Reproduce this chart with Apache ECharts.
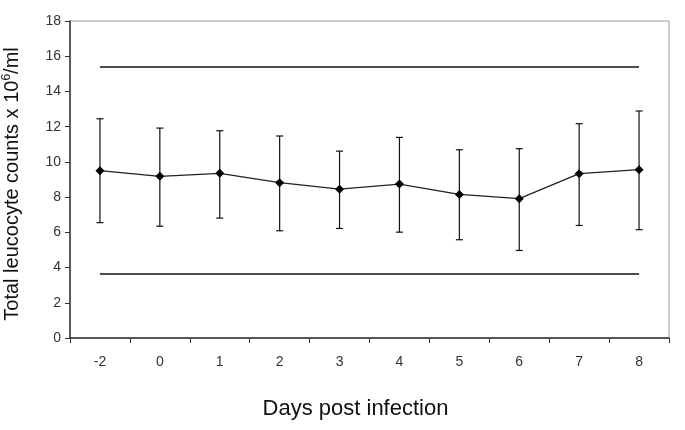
<!DOCTYPE html>
<html>
<head>
<meta charset="utf-8">
<script src="https://cdn.jsdelivr.net/npm/echarts@6/dist/echarts.min.js"></script>
<style>html,body{margin:0;padding:0;background:#fff}#c{width:685px;height:430px}</style>
</head>
<body>
<div id="c"></div>
<script>
var days = ['-2', '0', '1', '2', '3', '4', '5', '6', '7', '8'];
var meanCounts = [9.5, 9.18, 9.35, 8.82, 8.45, 8.74, 8.15, 7.91, 9.33, 9.56];
var lowerBars = [6.55, 6.35, 6.81, 6.09, 6.22, 6.01, 5.58, 4.97, 6.39, 6.15];
var upperBars = [12.45, 11.92, 11.77, 11.47, 10.61, 11.39, 10.69, 10.75, 12.17, 12.89];
var refUpper = 15.43;
var refLower = 3.62;
var yTicks = { min: 0, max: 18, interval: 2 };

var errData = days.map(function (d, i) { return [i, lowerBars[i], upperBars[i]]; });

var chart = echarts.init(document.getElementById('c'), null, { renderer: 'canvas' });
chart.setOption({
  animation: false,
  backgroundColor: '#fff',
  grid: { left: 70, right: 16, top: 21, bottom: 92, show: true, borderColor: '#9a9a9a', borderWidth: 1, containLabel: false, outerBoundsMode: 'none' },
  xAxis: {
    type: 'category',
    data: days,
    boundaryGap: true,
    name: 'Days post infection',
    nameLocation: 'middle',
    nameGap: 60,
    nameTextStyle: { fontFamily: 'Liberation Sans, Arial', fontSize: 22, color: '#111', padding: [0, 28, 0, 0] },
    axisLine: { lineStyle: { color: '#333', width: 1.5 } },
    axisTick: { show: true, length: 5, lineStyle: { color: '#333', width: 1 } },
    axisLabel: { fontFamily: 'Liberation Sans, Arial', fontSize: 14, color: '#333', margin: 17 },
    splitLine: { show: false }
  },
  yAxis: {
    type: 'value',
    min: yTicks.min, max: yTicks.max, interval: yTicks.interval,
    name: 'Total leucocyte counts x 10{sup|6}/ml',
    nameLocation: 'middle',
    nameGap: 47,
    nameRotate: 90,
    nameTextStyle: {
      fontFamily: 'Liberation Sans, Arial', fontSize: 20, color: '#111', lineHeight: 22, padding: [0, 9, 0, 0],
      rich: { sup: { fontFamily: 'Liberation Sans, Arial', fontSize: 12, color: '#111', verticalAlign: 'top', lineHeight: 22 } }
    },
    axisLine: { show: true, lineStyle: { color: '#333', width: 1.5 } },
    axisTick: { show: true, length: 5, lineStyle: { color: '#333', width: 1 } },
    axisLabel: { fontFamily: 'Liberation Sans, Arial', fontSize: 14, color: '#333', margin: 9 },
    splitLine: { show: false }
  },
  series: [
    {
      type: 'custom',
      name: 'SD',
      data: errData,
      z: 3,
      renderItem: function (params, api) {
        var x = api.value(0);
        var lo = api.coord([x, api.value(1)]);
        var hi = api.coord([x, api.value(2)]);
        var hw = 3.5;
        var st = { stroke: '#111', lineWidth: 1.2 };
        return {
          type: 'group',
          children: [
            { type: 'line', shape: { x1: lo[0], y1: lo[1], x2: hi[0], y2: hi[1] }, style: st },
            { type: 'line', shape: { x1: lo[0] - hw, y1: lo[1], x2: lo[0] + hw, y2: lo[1] }, style: st },
            { type: 'line', shape: { x1: hi[0] - hw, y1: hi[1], x2: hi[0] + hw, y2: hi[1] }, style: st }
          ]
        };
      }
    },
    {
      type: 'line',
      name: 'Mean',
      data: meanCounts,
      z: 4,
      symbol: 'diamond',
      symbolSize: 9,
      itemStyle: { color: '#000' },
      lineStyle: { color: '#222', width: 1.3 },
      markLine: {
        silent: true,
        symbol: 'none',
        label: { show: false },
        lineStyle: { color: '#111', width: 1.5, type: 'solid' },
        data: [
          [{ coord: [days[0], refUpper] }, { coord: [days[days.length - 1], refUpper] }],
          [{ coord: [days[0], refLower] }, { coord: [days[days.length - 1], refLower] }]
        ]
      }
    }
  ]
});
</script>
</body>
</html>
